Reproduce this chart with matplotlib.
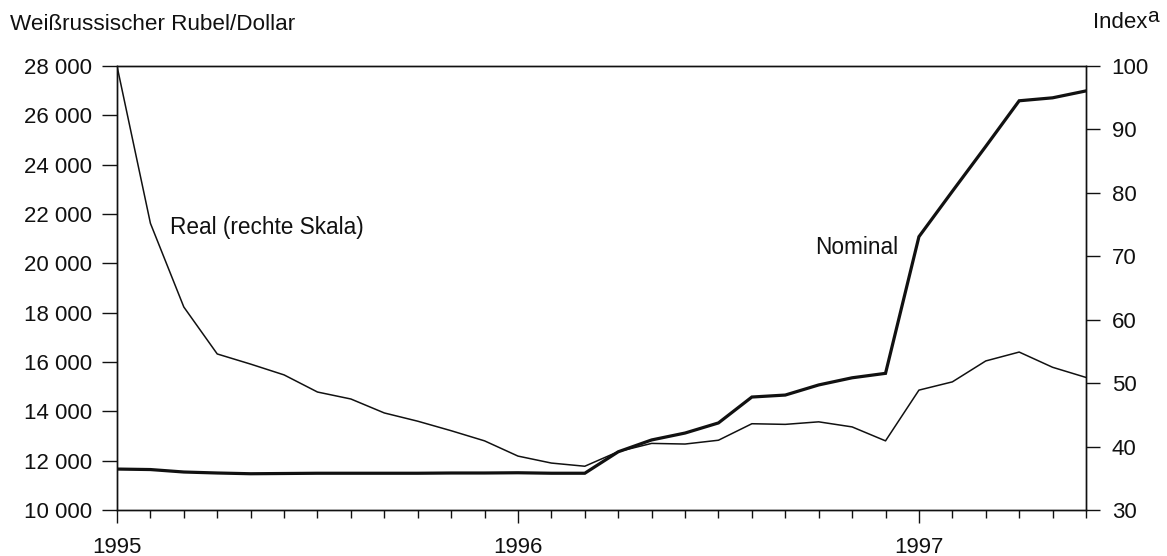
import matplotlib
matplotlib.use("Agg")
import matplotlib.pyplot as plt
from matplotlib.ticker import FixedLocator, FuncFormatter
import numpy as np

plt.rcParams['font.family'] = ['Liberation Sans', 'DejaVu Sans']

# monthly observations, Jan 1995 .. Jun 1997
months = np.arange(30)

# Weißrussischer Rubel je Dollar (linke Skala)
nominal = [11660, 11640, 11540, 11500, 11470, 11480, 11490, 11490, 11490, 11490,
           11500, 11500, 11510, 11490, 11490, 12360, 12840, 13120, 13530, 14580,
           14660, 15070, 15360, 15540, 21080, 22920, 24740, 26590, 26710, 26990]

# realer Wechselkurs, Index (rechte Skala)
real = [100.0, 75.2, 62.0, 54.6, 53.0, 51.3, 48.6, 47.5, 45.3, 44.0,
        42.5, 40.9, 38.5, 37.4, 36.9, 39.2, 40.5, 40.4, 41.0, 43.6,
        43.5, 43.9, 43.1, 40.9, 48.9, 50.2, 53.5, 54.9, 52.5, 50.9]

year_pos = [0, 12, 24]
year_labels = ['1995', '1996', '1997']
left_ticks = list(range(10000, 28001, 2000))
right_ticks = list(range(30, 101, 10))

W, H = 1167, 556
fig = plt.figure(figsize=(W / 100, H / 100), dpi=100)
ax = fig.add_axes([117 / W, 1 - 510 / H, (1086 - 117) / W, (510 - 66) / H])
ax2 = ax.twinx()

ink = '#111111'

ax.plot(months, nominal, color=ink, lw=2.3, solid_joinstyle='miter')
ax2.plot(months, real, color=ink, lw=1.1)

ax.set_xlim(0, 29)
ax.set_ylim(10000, 28000)
ax2.set_ylim(30, 100)

ax.xaxis.set_major_locator(FixedLocator(year_pos))
ax.xaxis.set_minor_locator(FixedLocator(months))
ax.set_xticklabels(year_labels)
ax.yaxis.set_major_locator(FixedLocator(left_ticks))
ax.yaxis.set_major_formatter(FuncFormatter(lambda v, p: f'{int(v):,}'.replace(',', ' ')))
ax2.yaxis.set_major_locator(FixedLocator(right_ticks))

ax.tick_params(axis='x', which='major', direction='out', length=9.5, width=1.0,
               pad=10, labelsize=16, colors=ink)
ax.tick_params(axis='x', which='minor', direction='out', length=5.5, width=1.0, colors=ink)
ax.tick_params(axis='y', which='major', direction='out', length=11, width=1.0,
               pad=7, labelsize=16, colors=ink)
ax2.tick_params(axis='y', which='major', direction='out', length=10, width=1.0,
                pad=8.5, labelsize=16, colors=ink)

for a in (ax, ax2):
    for s in a.spines.values():
        s.set_color(ink)
        s.set_linewidth(1.0)

ax.text(1.6, 21450, 'Real (rechte Skala)', fontsize=16.3, color=ink, va='center')
ax.text(20.9, 20650, 'Nominal', fontsize=16.3, color=ink, va='center')

fig.text(10 / W, 1 - 24 / H, 'Weißrussischer Rubel/Dollar', fontsize=16.2,
         color=ink, va='center', ha='left')
fig.text(1147 / W, 1 - 22 / H, 'Index', fontsize=16, color=ink, va='center', ha='right')
fig.text(1147 / W, 1 - 16 / H, 'a', fontsize=15, color=ink, va='center', ha='left')

fig.savefig('out.png', dpi=100)
